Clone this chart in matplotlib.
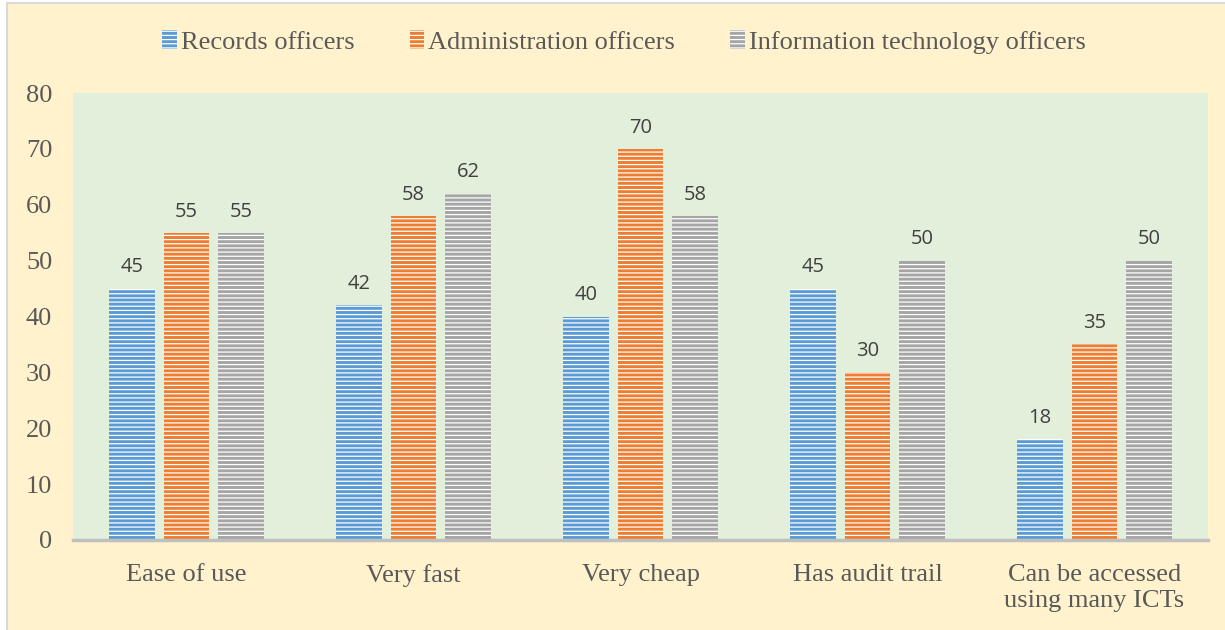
import matplotlib
matplotlib.use("Agg")
import matplotlib.pyplot as plt
import numpy as np
from matplotlib.patches import Rectangle

categories = ["Ease of use", "Very fast", "Very cheap", "Has audit trail",
              "Can be accessed\nusing many ICTs"]
series_names = ["Records officers", "Administration officers",
                "Information technology officers"]
records = [45, 42, 40, 45, 18]
administration = [55, 58, 70, 30, 35]
it_officers = [55, 62, 58, 50, 50]
y_ticks = [0, 10, 20, 30, 40, 50, 60, 70, 80]

colors = ["#5B9BD5", "#ED7D31", "#A5A5A5"]
plt.rcParams['hatch.linewidth'] = 0.9

fig = plt.figure(figsize=(12.25, 6.3), dpi=100, facecolor="white")
bg = Rectangle((6.5 / 1225, -0.02), 1.1, 1 - 2.5 / 630 + 0.02, transform=fig.transFigure,
               facecolor="#FFF2CC", edgecolor="#D9D9D9", linewidth=1.5, zorder=-10)
fig.patches.append(bg)

ax = fig.add_axes([73 / 1225, 1 - 540 / 630, (1208 - 73) / 1225, (540 - 93) / 630])
ax.set_facecolor("#E2EFDA")

x = np.arange(len(categories))
width = 0.2
offsets = [-0.24, 0, 0.24]
data = [records, administration, it_officers]
for i, (vals, name, c) in enumerate(zip(data, series_names, colors)):
    bars = ax.bar(x + offsets[i], vals, width, color=c, edgecolor="white",
                  linewidth=0, hatch="----", label=name, zorder=3)
    for xi, v in zip(x + offsets[i], vals):
        ax.text(xi, v + 2.0, str(v), ha="center", va="bottom", fontsize=14.5,
                color="#404040", family="Open Sans")

ax.set_xlim(-0.5, len(categories) - 0.5)
ax.set_ylim(0, 80)
ax.set_yticks(y_ticks)
ax.set_yticklabels([str(t) for t in y_ticks], family="Liberation Serif",
                   fontsize=19, color="#595959")
ax.set_xticks(x)
ax.set_xticklabels(categories, family="Liberation Serif", fontsize=19,
                   color="#595959", linespacing=1.25)
ax.tick_params(axis="both", length=0)
ax.tick_params(axis="y", pad=15)
ax.tick_params(axis="x", pad=17)
for s in ["top", "right", "left"]:
    ax.spines[s].set_visible(False)
ax.spines["bottom"].set_color("#BFBFBF")
ax.spines["bottom"].set_linewidth(2.5)
ax.spines["bottom"].set_zorder(4)

leg = fig.legend(loc="center", bbox_to_anchor=(624 / 1225, 1 - 42 / 630), ncol=3,
                 frameon=False, prop={"family": "Liberation Serif", "size": 19},
                 handlelength=0.55, handleheight=0.7, handletextpad=0.15,
                 columnspacing=2.1)
for t in leg.get_texts():
    t.set_color("#595959")

fig.savefig("out.png", dpi=100, facecolor=fig.get_facecolor())
